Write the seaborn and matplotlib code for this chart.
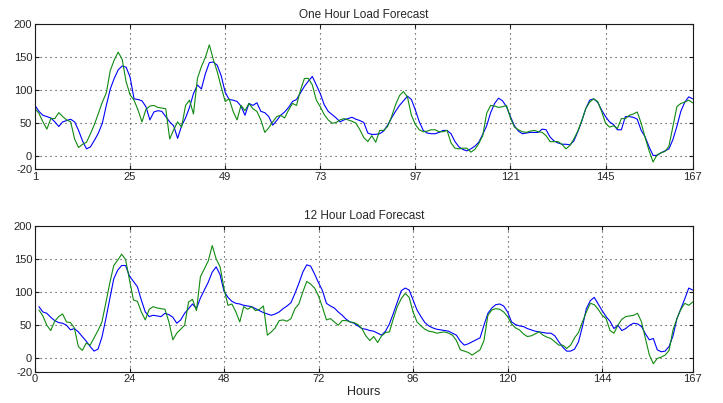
import numpy as np
import pandas as pd
import seaborn as sns
import matplotlib
matplotlib.use("Agg")
from matplotlib import pyplot as plt

# Data (hourly load, hours 1..167)
hours = list(range(1, 168))

top_blue = [77, 68, 62, 60, 58, 52, 45, 52, 54, 56, 52, 39, 23, 11, 14, 24, 35, 50, 77, 102,
            118, 131, 137, 135, 120, 87, 86, 84, 75, 55, 67, 69, 68, 60, 52, 46, 27, 46, 58, 74,
            95, 108, 102, 125, 142, 143, 138, 122, 97, 86, 85, 83, 76, 62, 80, 77, 81, 68, 66, 60,
            47, 54, 62, 67, 74, 83, 86, 96, 106, 114, 121, 108, 95, 78, 68, 63, 58, 52, 55, 57,
            59, 56, 54, 51, 35, 33, 33, 34, 38, 47, 58, 68, 77, 84, 91, 86, 70, 52, 39, 35,
            34, 34, 36, 39, 39, 34, 22, 14, 10, 8, 11, 15, 21, 33, 46, 66, 80, 88, 84, 75,
            60, 46, 38, 34, 35, 36, 36, 36, 41, 40, 29, 23, 20, 18, 18, 17, 23, 37, 53, 72,
            85, 87, 82, 70, 60, 52, 48, 40, 40, 60, 60, 59, 56, 39, 29, 14, 1, 1, 5, 8,
            11, 25, 45, 68, 82, 90, 87]

top_green = [72, 65, 52, 41, 57, 57, 66, 60, 55, 52, 26, 13, 18, 21, 34, 48, 65, 82, 96, 130,
             146, 158, 147, 113, 93, 85, 70, 52, 71, 76, 77, 74, 73, 72, 26, 40, 52, 44, 77, 85,
             64, 118, 136, 150, 169, 147, 128, 105, 83, 87, 68, 55, 77, 69, 80, 72, 68, 55, 36, 43,
             52, 60, 62, 58, 70, 80, 77, 100, 118, 118, 108, 85, 75, 63, 55, 50, 51, 55, 57, 55,
             53, 50, 40, 28, 22, 31, 21, 39, 39, 45, 60, 78, 92, 98, 90, 62, 48, 40, 37, 38,
             40, 40, 37, 37, 39, 20, 12, 11, 12, 12, 6, 10, 19, 31, 65, 77, 76, 74, 75, 77,
             58, 44, 40, 37, 36, 38, 39, 37, 36, 31, 22, 22, 22, 18, 11, 16, 26, 38, 54, 72,
             82, 87, 83, 68, 50, 44, 46, 42, 57, 57, 62, 64, 67, 50, 28, 8, -9, 2, 5, 7,
             15, 45, 75, 80, 82, 85, 81]

bot_blue = [78, 70, 68, 62, 57, 54, 53, 50, 43, 45, 40, 33, 26, 18, 11, 14, 32, 60, 90, 120,
            133, 140, 140, 124, 116, 108, 88, 70, 63, 65, 64, 63, 68, 66, 62, 53, 58, 68, 75, 82,
            75, 91, 103, 115, 130, 138, 126, 101, 92, 86, 83, 82, 80, 79, 78, 75, 72, 69, 67, 65,
            67, 70, 75, 79, 84, 98, 113, 130, 141, 139, 127, 114, 102, 83, 79, 76, 70, 65, 59, 55,
            53, 49, 45, 44, 42, 41, 38, 35, 41, 52, 68, 85, 102, 106, 103, 88, 73, 63, 54, 49,
            46, 44, 43, 42, 41, 38, 35, 26, 20, 22, 25, 28, 31, 50, 68, 76, 81, 82, 79, 70,
            55, 51, 49, 48, 45, 43, 41, 40, 39, 38, 38, 34, 25, 17, 11, 11, 14, 25, 48, 75,
            87, 92, 82, 72, 63, 56, 45, 50, 42, 45, 50, 53, 52, 48, 37, 28, 30, 13, 10, 11,
            18, 34, 60, 75, 90, 106, 103]

bot_green = [73, 64, 50, 42, 56, 63, 67, 55, 54, 46, 18, 12, 23, 20, 31, 42, 55, 84, 114, 140,
             148, 157, 149, 118, 88, 86, 70, 58, 74, 78, 76, 75, 74, 55, 28, 38, 44, 50, 85, 89,
             72, 123, 135, 147, 170, 150, 138, 105, 80, 82, 70, 55, 78, 74, 78, 72, 74, 79, 35, 40,
             46, 57, 58, 56, 60, 75, 82, 100, 116, 112, 106, 94, 77, 58, 60, 55, 50, 57, 57, 55,
             54, 51, 45, 34, 27, 33, 24, 34, 39, 40, 60, 78, 90, 98, 92, 70, 55, 49, 44, 41,
             40, 38, 39, 40, 38, 35, 27, 13, 11, 9, 5, 9, 13, 27, 65, 73, 75, 74, 70, 63,
             52, 46, 43, 37, 33, 34, 37, 40, 35, 32, 30, 25, 20, 20, 15, 20, 31, 39, 55, 70,
             83, 81, 74, 65, 60, 42, 38, 50, 59, 63, 64, 65, 68, 55, 30, 5, -8, 0, 2, 5,
             12, 43, 60, 74, 83, 80, 85]

top_ticks = [1, 25, 49, 73, 97, 121, 145, 167]
bot_ticks = [0, 24, 48, 72, 96, 120, 144, 167]
y_ticks = [-20, 0, 50, 100, 150, 200]

sns.set_style("whitegrid", {"axes.edgecolor": "0.1", "axes.linewidth": 0.8,
                            "xtick.direction": "in", "ytick.direction": "in"})
plt.rcParams['font.family'] = ['Liberation Sans', 'DejaVu Sans']
plt.rcParams['axes.unicode_minus'] = False

fig = plt.figure(figsize=(7.23, 4.03), dpi=100)
ax1 = fig.add_axes([0.0484, 0.580, 0.9097, 0.3593])
ax2 = fig.add_axes([0.0484, 0.0777, 0.9097, 0.3623])

panels = [
    (ax1, top_blue, top_green, top_ticks, (1, 167), "One Hour Load Forecast"),
    (ax2, bot_blue, bot_green, bot_ticks, (0, 167), "12 Hour Load Forecast"),
]

for ax, blue, green, ticks, xlim, title in panels:
    df = pd.DataFrame({"hour": hours, "blue": blue, "green": green})
    sns.lineplot(data=df, x="hour", y="blue", ax=ax, color="#0000ff", lw=0.8)
    sns.lineplot(data=df, x="hour", y="green", ax=ax, color="#108a10", lw=0.8)
    ax.set_xlim(*xlim)
    ax.set_ylim(-20, 200)
    ax.set_xticks(ticks)
    ax.set_yticks(y_ticks)
    ax.set_xticklabels([str(t) for t in ticks])
    ax.set_yticklabels([str(t) for t in y_ticks])
    ax.grid(True, color="0.2", linewidth=0.8, dashes=(1, 3.5))
    ax.tick_params(labelsize=8, pad=2, length=3, color="0.1",
                   top=True, right=True, bottom=True, left=True)
    ax.set_title(title, fontsize=8.5, pad=5)
    ax.set_ylabel("")
    ax.set_xlabel("")

ax2.set_xlabel("Hours", fontsize=9, labelpad=1)

fig.savefig("out.png", dpi=100)
